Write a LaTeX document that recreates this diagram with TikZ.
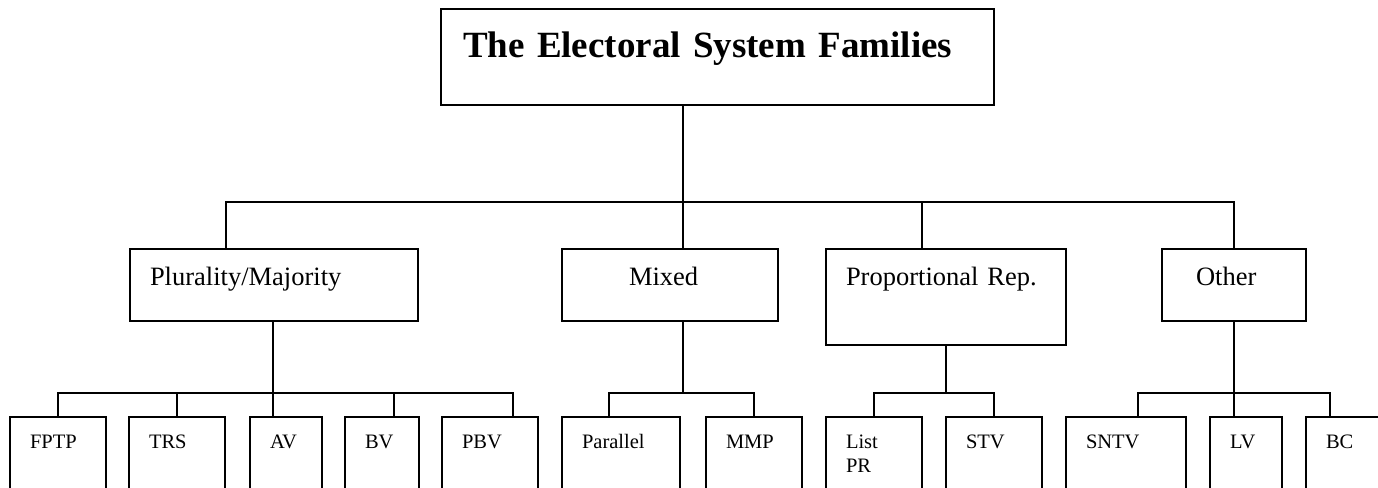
\documentclass[tikz,border=0pt]{standalone}
\usepackage{fontspec}
\setmainfont{Liberation Serif}

\begin{document}
\begin{tikzpicture}[
    x=1pt, y=-1pt,
    family/.style={draw, line width=2pt, anchor=north west, outer sep=0pt, inner xsep=20pt, inner ysep=0pt, text width=#1, align=left, text height=36pt, text depth=36pt, font=\fontsize{26.5}{31}\selectfont},
    leaf/.style={draw, line width=2pt, anchor=north west, outer sep=0pt, inner xsep=20pt, inner ysep=0pt, text width=#1, align=left, text height=31pt, text depth=80pt, font=\fontsize{20.5}{24}\selectfont},
    link/.style={line width=1.8pt}
]
    \useasboundingbox (0,0) rectangle (1378,487);

    % Title
    \node[draw, line width=2pt, anchor=north west, outer sep=0pt, inner xsep=22pt, inner ysep=0pt, text width=509pt, align=left, text height=49pt, text depth=47pt, font=\fontsize{37}{44}\selectfont\bfseries] (title) at (441,9) {The Electoral System Families};

    % Families
    \node[family=248pt] (plurality) at (130,249) {Plurality/Majority};
    \node[family=82pt, inner xsep=67pt] (mixed) at (562,249) {Mixed};
    \node[family=200pt, text depth=60pt] (proportional) at (826,249) {Proportional Rep.};
    \node[family=76pt, inner xsep=34pt] (other) at (1162,249) {Other};

    % Systems
    \node[leaf=56pt] (fptp) at (10,417) {FPTP};
    \node[leaf=56pt] (trs) at (129,417) {TRS};
    \node[leaf=32pt] (av) at (250,417) {AV};
    \node[leaf=34pt] (bv) at (345,417) {BV};
    \node[leaf=56pt] (pbv) at (442,417) {PBV};
    \node[leaf=78pt] (parallel) at (562,417) {Parallel};
    \node[leaf=56pt] (mmp) at (706,417) {MMP};
    \node[leaf=56pt] (listpr) at (826,417) {List\\PR};
    \node[leaf=56pt] (stv) at (946,417) {STV};
    \node[leaf=80pt] (sntv) at (1066,417) {SNTV};
    \node[leaf=32pt] (lv) at (1210,417) {LV};
    \node[leaf=56pt] (bc) at (1306,417) {BC};

    % Junctions
    \coordinate (top hub) at (683,202);
    \coordinate (pm hub) at (273,393);
    \coordinate (mx hub) at (683,393);
    \coordinate (pr hub) at (946,393);
    \coordinate (ot hub) at (1234,393);

    % Title to families
    \draw[link] (title.south -| top hub) -- (top hub);
    \draw[link] (plurality.north -| 226,0) |- (top hub) -| (other.north);
    \draw[link] (mixed.north -| top hub) -- (top hub);
    \draw[link] (proportional.north -| 922,0) -- (top hub -| 922,0);

    % Plurality/Majority
    \draw[link] (plurality.south -| pm hub) -- (pm hub);
    \draw[link] (fptp.north) |- (pm hub) -| (pbv.north -| 513,0);
    \draw[link] (trs.north) -- (trs.north |- pm hub);
    \draw[link] (av.north -| pm hub) -- (pm hub);
    \draw[link] (bv.north -| 394,0) -- (pm hub -| 394,0);

    % Mixed
    \draw[link] (mixed.south -| mx hub) -- (mx hub);
    \draw[link] (parallel.north -| 609,0) |- (mx hub) -| (mmp.north);

    % Proportional Rep.
    \draw[link] (proportional.south) -- (pr hub);
    \draw[link] (listpr.north) |- (pr hub) -| (stv.north);

    % Other
    \draw[link] (other.south) -- (ot hub);
    \draw[link] (sntv.north -| 1138,0) |- (ot hub) -| (bc.north -| 1330,0);
    \draw[link] (lv.north -| ot hub) -- (ot hub);
\end{tikzpicture}
\end{document}
